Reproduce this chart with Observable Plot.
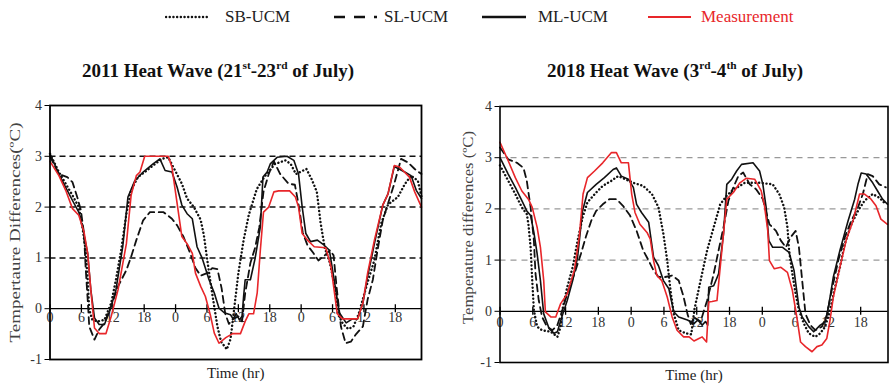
<!DOCTYPE html>
<html><head><meta charset="utf-8">
<script src="https://cdn.jsdelivr.net/npm/d3@7"></script>
<script src="https://cdn.jsdelivr.net/npm/@observablehq/plot@0.6"></script>
<style>
body{margin:0;background:#fff;}
#root{position:relative;width:889px;height:384px;font-family:"Liberation Serif","Times New Roman",serif;overflow:hidden;background:#fff}
#root svg text{font-family:"Liberation Serif","Times New Roman",serif}
.title{position:absolute;font-weight:bold;font-size:19px;text-align:center;width:440px;line-height:19px;color:#111;white-space:nowrap}
.sup{font-size:0.6em;vertical-align:0.7em;line-height:0}
.legtext{position:absolute;top:8px;font-size:17px;line-height:18px;color:#222;white-space:nowrap}
.sw{position:absolute;top:10px}
</style></head><body><div id="root"></div>
<script>
// ---- tick labels / categories ----
const xTicks = [0, 6, 12, 18, 24, 30, 36, 42, 48, 54, 60, 66];
const yTicks = [-1, 0, 1, 2, 3, 4];
const gridValues = [1, 2, 3];
const seriesNames = ["SB-UCM", "SL-UCM", "ML-UCM", "Measurement"];

// ---- 2011 heat wave: [hour, temperature difference] ----
const sb2011 = [[0,3.05],[1.7,2.69],[3,2.46],[4.3,2.23],[5.5,2.0],[6.2,1.61],[6.8,1.15],[7.2,0.57],[7.5,-0.02],[8.1,-0.22],[9.1,-0.25],[10.4,-0.22],[11.7,0.11],[12.6,0.57],[13.6,1.15],[14.6,1.87],[15.5,2.33],[16.8,2.59],[18.5,2.72],[19.7,2.82],[21.4,2.95],[22.6,2.98],[23.9,2.72],[25.2,2.46],[26.2,2.17],[27.5,2.0],[28.8,1.75],[29.4,1.45],[30,1.0],[30.7,0.5],[31.3,0.1],[32,-0.35],[32.7,-0.65],[33.8,-0.8],[34.5,-0.6],[35.2,0.0],[36,0.7],[37,1.35],[38,1.85],[39.5,2.35],[41,2.6],[43,2.85],[45,2.92],[46,2.85],[47,2.65],[48,2.7],[49,2.75],[50,2.55],[51,2.3],[51.7,1.7],[52.5,1.2],[53.5,0.9],[54.5,0.4],[55,-0.1],[56,-0.3],[57,-0.4],[58,-0.35],[59,-0.1],[60.5,0.45],[62,0.96],[63.3,1.68],[64.6,2.05],[66.5,2.2],[67.8,2.45],[69,2.62],[70.3,2.52],[71,2.2]];
const sl2011 = [[0,3.0],[1.7,2.65],[3.3,2.59],[4.3,2.49],[5.2,2.2],[5.9,1.94],[6.5,1.48],[6.8,0.83],[7.2,0.18],[7.5,-0.35],[8.5,-0.61],[9.4,-0.41],[10.4,-0.28],[11.7,0.05],[13,0.44],[14.6,0.76],[15.5,1.02],[16.5,1.35],[17.8,1.74],[19.1,1.9],[21.7,1.9],[23.3,1.77],[24.3,1.64],[25.5,1.42],[26.8,1.09],[27.8,0.8],[28.8,0.65],[30,0.7],[31,0.8],[32,0.78],[32.8,0.4],[33.5,-0.1],[34.2,-0.3],[35,-0.2],[36,-0.15],[36.7,-0.25],[37.3,0.3],[38.3,0.9],[39.2,1.2],[40,1.6],[40.8,2.3],[41.8,2.65],[42.8,2.9],[44,2.65],[45.6,2.46],[46.8,2.44],[47.6,2.0],[48.3,1.5],[49.2,1.25],[50.3,1.1],[51.3,0.95],[52.5,1.05],[53.5,1.15],[54.2,1.05],[54.8,0.4],[55.6,-0.35],[56.5,-0.68],[57.5,-0.65],[58.5,-0.5],[59.8,-0.35],[60.7,0.18],[61.7,0.57],[62.6,1.15],[63.6,1.74],[64.6,2.07],[65.8,2.46],[67.1,2.95],[68.4,2.88],[69.7,2.75],[71,2.65]];
const ml2011 = [[0,3.05],[1.7,2.65],[3,2.39],[4.3,2.13],[5.5,1.9],[6.2,1.61],[7.2,1.09],[7.8,0.37],[8.5,-0.18],[9.4,-0.31],[10.4,-0.31],[11.4,-0.05],[12.6,0.37],[13.9,1.22],[14.9,2.2],[16.2,2.52],[17.8,2.69],[19.7,2.85],[21,2.95],[22,2.72],[23.3,2.69],[24.3,2.39],[25.2,2.04],[26.2,1.87],[27.2,1.77],[28.1,1.22],[29.1,0.99],[30.4,0.57],[31.4,0.31],[32.3,0.01],[33.3,-0.08],[34.5,-0.12],[35,-0.2],[35.6,-0.1],[36.2,-0.22],[36.7,-0.15],[37,0.24],[37.3,0.57],[38.3,0.57],[39.2,0.99],[40.2,1.61],[40.7,2.59],[41.5,2.69],[42.1,2.85],[43.4,2.98],[45.3,3.0],[46.6,2.92],[47.5,2.65],[48.2,2.0],[48.9,1.48],[49.8,1.32],[51.1,1.35],[52.4,1.25],[53.4,1.15],[54.3,0.57],[55.3,-0.08],[56.6,-0.28],[57.8,-0.2],[58.8,-0.2],[59.8,0.11],[60.7,0.63],[62,1.28],[63.6,2.04],[64.6,2.26],[65.8,2.8],[67.8,2.69],[69,2.62],[70,2.33],[71,2.17]];
const meas2011 = [[0,2.9],[1.7,2.62],[3,2.33],[4.3,1.97],[5.5,1.84],[6.5,1.51],[7.2,1.09],[7.8,0.37],[8.5,-0.38],[9.4,-0.49],[10.7,-0.49],[11.7,-0.15],[13,0.37],[14.6,1.28],[15.5,2.23],[16.5,2.62],[17.2,2.69],[18.1,3.0],[22.6,3.0],[23.3,2.79],[24.3,2.07],[25.2,1.42],[26.2,1.28],[27.2,1.09],[27.8,0.7],[28.8,0.44],[29.7,0.24],[30.7,-0.15],[31.4,-0.48],[32.3,-0.68],[33.6,-0.57],[34.9,-0.49],[36.4,-0.49],[37.3,-0.25],[38,-0.1],[38.9,-0.1],[39.6,0.31],[40.2,1.15],[40.8,1.9],[41.8,2.0],[42.8,2.3],[43.7,2.32],[45.8,2.32],[46.9,2.2],[47.5,2.0],[48.2,1.48],[49.2,1.35],[50.5,1.22],[52.7,1.2],[53.7,0.83],[54.9,-0.1],[55.9,-0.2],[58.8,-0.2],[59.8,0.11],[60.7,0.7],[62,1.35],[63.6,2.04],[64.6,2.26],[65.8,2.82],[66.8,2.79],[68.7,2.59],[69.7,2.3],[71,2.0]];

// ---- 2018 heat wave: [hour, temperature difference] ----
const sb2018 = [[0,2.85],[1.5,2.55],[2.8,2.29],[4,2.03],[4.9,1.9],[5.2,1.7],[5.6,1.25],[5.9,0.6],[6.2,0.02],[6.8,-0.3],[7.7,-0.37],[9.3,-0.4],[10.5,-0.5],[11.1,-0.3],[11.4,0.02],[12.3,0.47],[13.3,0.86],[14.2,1.38],[15.1,1.83],[16,2.13],[17.6,2.32],[18.8,2.45],[20.4,2.55],[21.6,2.64],[22.5,2.6],[24.4,2.51],[26.2,2.45],[27.8,2.29],[29,2.03],[29.9,1.51],[30.6,0.99],[31.2,0.41],[31.8,-0.05],[32.7,-0.37],[34,-0.43],[35,-0.45],[35.6,0.05],[36.7,0.6],[37.9,1.19],[39.1,1.64],[40.3,2.09],[41.5,2.26],[42.7,2.38],[43.9,2.45],[44.8,2.51],[47.5,2.51],[49.9,2.48],[51.1,2.29],[52,2.03],[52.6,1.64],[52.9,1.19],[53.5,0.73],[54.1,0.34],[54.7,0.02],[55.6,-0.24],[56.5,-0.43],[57.7,-0.5],[58.6,-0.43],[59.5,-0.3],[60.4,0.02],[61.3,0.47],[62.2,0.86],[63.1,1.32],[64.3,1.7],[65.5,1.96],[66.7,2.16],[68.2,2.29],[69.4,2.22],[70.6,2.09]];
const sl2018 = [[0,3.2],[1.5,2.97],[3.1,2.9],[4.3,2.8],[4.9,2.55],[5.6,2.03],[6.2,1.38],[6.5,0.73],[7.1,0.21],[7.7,-0.11],[8.6,-0.3],[9.6,-0.37],[10.5,-0.27],[11.4,0.02],[12.3,0.34],[13.6,0.73],[14.8,1.12],[15.7,1.45],[16.7,1.77],[17.6,1.96],[18.8,2.09],[20,2.19],[21.3,2.19],[22.5,2.06],[23.8,1.87],[25,1.57],[26.2,1.19],[27.2,0.99],[28.1,0.8],[29,0.67],[30.2,0.67],[31.5,0.7],[32.7,0.6],[33.6,0.28],[34.3,-0.05],[34.9,-0.25],[35.5,-0.12],[36.7,-0.2],[37.9,0.21],[39.1,0.73],[40,1.19],[40.9,1.64],[41.8,2.16],[42.7,2.42],[43.6,2.64],[44.5,2.71],[45.7,2.48],[46.9,2.38],[48.1,2.19],[49.3,1.7],[50.5,1.57],[51.4,1.38],[52.3,1.25],[53.2,1.45],[54.1,1.57],[54.7,1.25],[55.3,0.6],[55.9,-0.05],[56.8,-0.27],[57.7,-0.37],[58.9,-0.3],[59.8,-0.08],[60.7,0.41],[61.9,0.99],[63.1,1.45],[64.3,1.77],[65.5,2.03],[66.4,2.29],[67.3,2.68],[68.2,2.64],[69.4,2.48],[70.6,2.42]];
const ml2018 = [[0,3.0],[1.5,2.68],[2.8,2.42],[4,2.16],[4.9,1.96],[5.6,1.87],[6.2,1.54],[6.8,1.12],[7.4,0.6],[8,-0.05],[9,-0.34],[9.9,-0.43],[10.5,-0.4],[11.4,-0.08],[12.3,0.21],[13.3,0.6],[14.2,1.06],[15.1,1.96],[16,2.32],[17.6,2.48],[19.1,2.61],[20.7,2.77],[21.3,2.8],[22.2,2.64],[23.5,2.58],[24.4,2.42],[25,2.09],[25.9,1.93],[27.2,1.74],[28.1,1.06],[29,0.89],[29.9,0.6],[30.9,0.44],[31.8,-0.01],[32.7,-0.11],[34.3,-0.17],[35.5,-0.24],[36.2,-0.17],[37,-0.27],[37.6,-0.2],[38,-0.27],[38.2,0.47],[39.1,0.5],[40,0.73],[40.9,1.51],[41.5,2.48],[42.4,2.58],[43.3,2.74],[44.2,2.87],[46.3,2.9],[47.5,2.74],[48.1,2.48],[48.7,2.03],[49.2,1.38],[49.9,1.25],[51.7,1.25],[52.9,1.15],[53.8,0.8],[54.7,0.08],[55.3,-0.11],[56.5,-0.3],[57.4,-0.4],[58.6,-0.27],[59.5,-0.21],[60.1,0.08],[61,0.67],[62.2,1.19],[63.7,1.77],[64.9,2.19],[65.5,2.48],[66.1,2.7],[67,2.68],[68.2,2.51],[69.1,2.35],[70,2.19],[70.9,2.09]];
const meas2018 = [[0,3.3],[1.5,2.94],[2.8,2.61],[4,2.35],[5.2,2.19],[5.9,2.03],[6.8,1.64],[7.4,1.25],[8,0.6],[8.3,-0.01],[9.3,-0.11],[10.2,-0.11],[11.1,0.15],[12.3,0.34],[13.6,0.8],[14.5,1.45],[15.2,2.29],[16,2.61],[17.3,2.74],[18.8,2.9],[20.4,3.1],[21.3,3.1],[22.2,2.9],[23.5,2.9],[24.1,2.29],[24.7,1.93],[25.6,1.7],[26.9,1.54],[27.5,1.41],[28.1,0.99],[28.7,0.7],[29.6,0.6],[30.6,0.28],[31.5,-0.11],[32.4,-0.37],[33.6,-0.5],[34.6,-0.5],[35.5,-0.58],[36.4,-0.53],[37,-0.5],[37.8,-0.6],[38.2,0.18],[38.8,0.19],[39.7,0.21],[40.6,1.19],[41.5,2.19],[42.7,2.32],[43.9,2.51],[45.1,2.6],[46.6,2.58],[47.8,2.35],[48.4,2.06],[49,1.57],[49.3,0.99],[50.2,0.83],[51.4,0.86],[52.6,0.76],[53.5,0.41],[54.4,-0.17],[55,-0.6],[55.9,-0.69],[57.1,-0.79],[58,-0.69],[58.9,-0.66],[59.8,-0.53],[60.4,-0.17],[61,0.28],[62.2,0.86],[63.4,1.41],[64.6,1.77],[65.8,2.29],[66.7,2.29],[67.9,2.19],[68.8,2.06],[69.7,1.8],[70.9,1.7]];

const RED = "#e8262a";
const FONT = "'Liberation Serif','Times New Roman',serif";
const root = document.getElementById("root");

// ---- legend ----
const legendItems = [
  {name: seriesNames[0], sx: 165, sw: 46, tx: 225, dash: "0.1,3.6", width: 2.4, cap: "round", color: "#111", textColor: "#222"},
  {name: seriesNames[1], sx: 333, sw: 47, tx: 384, dash: "11,9,11,9,3,40", width: 2.6, cap: "butt", color: "#111", textColor: "#222"},
  {name: seriesNames[2], sx: 481, sw: 46, tx: 538, dash: null, width: 2.6, cap: "butt", color: "#111", textColor: "#222"},
  {name: seriesNames[3], sx: 647, sw: 45, tx: 701, dash: null, width: 2.2, cap: "butt", color: RED, textColor: RED}
];
for (const it of legendItems) {
  const s = d3.create("svg").attr("class", "sw").attr("width", it.sw).attr("height", 14)
    .style("left", it.sx + "px");
  s.append("line").attr("x1", 1).attr("x2", it.sw - 1).attr("y1", 7).attr("y2", 7)
    .attr("stroke", it.color).attr("stroke-width", it.width)
    .attr("stroke-dasharray", it.dash).attr("stroke-linecap", it.cap);
  root.appendChild(s.node());
  const t = document.createElement("div");
  t.className = "legtext";
  t.style.left = it.tx + "px";
  t.style.color = it.textColor;
  t.textContent = it.name;
  root.appendChild(t);
}

// ---- titles ----
function addTitle(html, cx) {
  const d = document.createElement("div");
  d.className = "title";
  d.style.left = (cx - 220) + "px";
  d.style.top = "61px";
  d.innerHTML = html;
  root.appendChild(d);
}
addTitle('2011 Heat Wave (21<span class="sup">st</span>-23<span class="sup">rd</span> of July)', 218);
addTitle('2018 Heat Wave (3<span class="sup">rd</span>-4<span class="sup">th</span> of July)', 675);

// ---- panels ----
function panel(cfg) {
  const H = d => d[0], V = d => d[1];
  const svg = Plot.plot({
    width: 445, height: 294,
    marginLeft: cfg.mL, marginRight: cfg.mR, marginTop: cfg.mT, marginBottom: cfg.mB,
    x: {domain: [0, 71], axis: null},
    y: {domain: [-1, 4], axis: null},
    style: {fontFamily: FONT, background: "transparent", overflow: "visible", color: "#333"},
    marks: [
      Plot.ruleY(gridValues, {stroke: cfg.gridColor, strokeWidth: cfg.gridWidth, strokeDasharray: cfg.gridDash}),
      Plot.ruleY([0], {stroke: "#000", strokeWidth: 1.3}),
      Plot.ruleX(xTicks, {x: d => d, y1: d => 0, y2: d => 0, insetTop: -4, insetBottom: -4, stroke: "#000", strokeWidth: 1.3}),
      Plot.text(xTicks, {x: d => d, y: d => 0, text: d => String(d % 24), dy: cfg.tickDy, fontSize: 14, fill: "#333", fontFamily: FONT}),
      Plot.axisY(yTicks, {tickSize: 5, tickPadding: 3, fontSize: 14, label: null, stroke: "#000", fill: "#333", fontFamily: FONT, tickFormat: d => String(d)}),
      Plot.line(cfg.sb, {x: H, y: V, stroke: "#111", strokeWidth: 2.4, strokeDasharray: "0.1,3.6", strokeLinecap: "round"}),
      Plot.line(cfg.sl, {x: H, y: V, stroke: "#111", strokeWidth: 1.8, strokeDasharray: "7,4.5"}),
      Plot.line(cfg.ml, {x: H, y: V, stroke: "#111", strokeWidth: 1.6}),
      Plot.line(cfg.meas, {x: H, y: V, stroke: RED, strokeWidth: 1.6}),
      Plot.frame({stroke: "#000", strokeWidth: cfg.frameWidth}),
      Plot.text([cfg.ylabel], {frameAnchor: "left", dx: cfg.ylabelDx, dy: cfg.ylabelDy, rotate: -90, textAnchor: "middle", lineAnchor: "middle", fontSize: 15, fill: "#444", fontFamily: FONT}),
      Plot.text(["Time (hr)"], {frameAnchor: "bottom", dy: cfg.xlabelDy, lineAnchor: "middle", fontSize: 15, fill: "#222", fontFamily: FONT})
    ]
  });
  for (const t of svg.querySelectorAll("text")) {
    if (t.textContent === cfg.ylabel) {
      t.setAttribute("textLength", cfg.ylabelLen);
      t.setAttribute("lengthAdjust", "spacingAndGlyphs");
    }
  }
  svg.style.position = "absolute";
  svg.style.top = "90px";
  svg.style.left = cfg.left + "px";
  root.appendChild(svg);
}

panel({
  left: 0, mL: 49.5, mR: 24, mT: 15, mB: 25,
  sb: sb2011, sl: sl2011, ml: ml2011, meas: meas2011,
  gridColor: "#111", gridWidth: 1.5, gridDash: "6,4",
  frameWidth: 1.8, tickDy: 9,
  ylabel: "Tempertaure Differences(\u00BAC)", ylabelDx: -34.5, ylabelDy: 0, ylabelLen: 220,
  xlabelDy: 14
});
panel({
  left: 444, mL: 55.5, mR: 1.5, mT: 16, mB: 22,
  sb: sb2018, sl: sl2018, ml: ml2018, meas: meas2018,
  gridColor: "#999", gridWidth: 1.3, gridDash: "6,5",
  frameWidth: 1.6, tickDy: 11,
  ylabel: "Temperature differences (\u00BAC)", ylabelDx: -31.5, ylabelDy: -7, ylabelLen: 193,
  xlabelDy: 13
});
</script></body></html>
